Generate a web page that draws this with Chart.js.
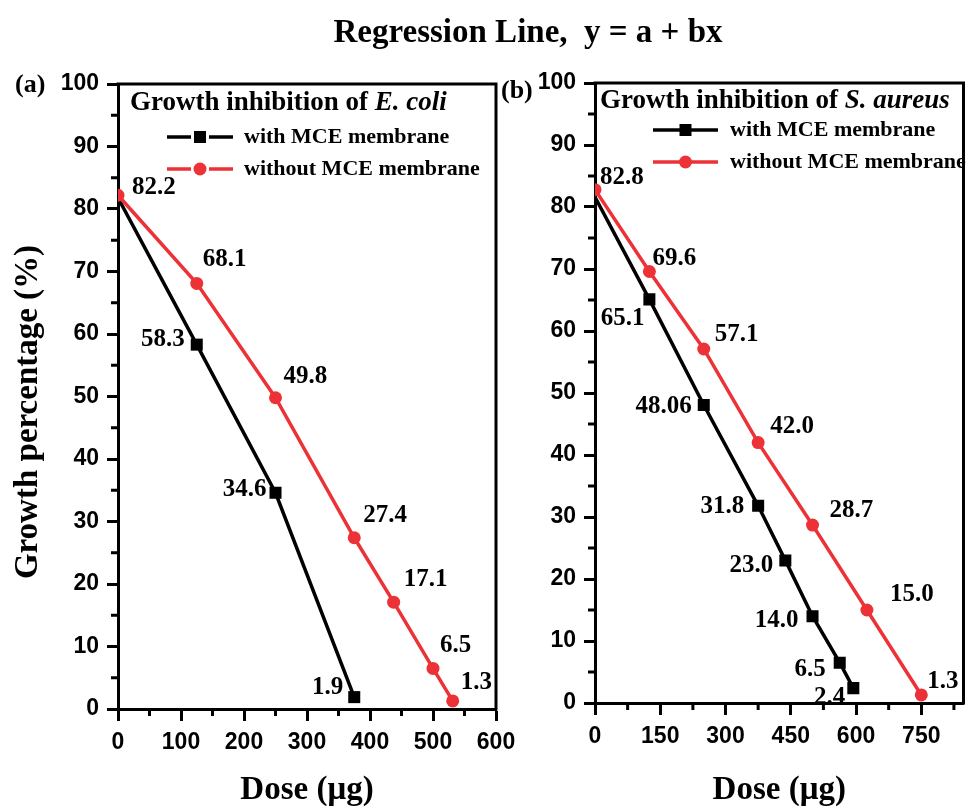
<!DOCTYPE html>
<html>
<head>
<meta charset="utf-8">
<script src="https://cdn.jsdelivr.net/npm/chart.js@4.4.1/dist/chart.umd.min.js"></script>
<style>
  html, body { margin: 0; padding: 0; background: #fff; }
  #wrap { position: relative; width: 972px; height: 808px; }
  canvas { position: absolute; left: 0; top: 0; }
</style>
</head>
<body>
<div id="wrap">
  <canvas id="panelA" width="972" height="808"></canvas>
  <canvas id="panelB" width="972" height="808"></canvas>
</div>
<script>
const SERIF = '"Liberation Serif", "Times New Roman", serif'
const SANS = '"Liberation Sans", Arial, sans-serif'
const RED = '#ec3237'

// (a) E. coli
const ecoliDoseWith = [0, 125, 250, 375]
const ecoliWith = [81.8, 58.3, 34.6, 1.9]
const ecoliDoseWithout = [0, 125, 250, 375, 437.5, 500, 531.25]
const ecoliWithout = [82.2, 68.1, 49.8, 27.4, 17.1, 6.5, 1.3]

// (b) S. aureus
const aureusDoseWith = [0, 125, 250, 375, 437.5, 500, 562.5, 593.75]
const aureusWith = [81.6, 65.1, 48.06, 31.8, 23.0, 14.0, 6.5, 2.4]
const aureusDoseWithout = [0, 125, 250, 375, 500, 625, 750]
const aureusWithout = [82.8, 69.6, 57.1, 42.0, 28.7, 15.0, 1.3]

// tick labels
const growthTicks = [0, 10, 20, 30, 40, 50, 60, 70, 80, 90, 100]
const doseTicksA = [0, 100, 200, 300, 400, 500, 600]
const doseTicksB = [0, 150, 300, 450, 600, 750]

const seriesNames = ['with MCE membrane', 'without MCE membrane']

// where each value label sits relative to its point (px)
const ecoliWithOffsets = [null, [-12, -5], [-9, -3], [-11, -10]]
const ecoliWithoutOffsets = [[14, -8], [6, -24], [8, -21], [9, -22], [10, -23], [7, -23], [8, -18]]
const aureusWithOffsets = [null, [-5, 19], [-12, 2], [-14, 1], [-12, 5], [-14, 4], [-14, 7], [-8, 9]]
const aureusWithoutOffsets = [[5, -12], [3, -13], [11, -14], [12, -16], [17, -15], [23, -15], [6, -13]]

const fmt = v => (Math.round(v * 10) / 10 === v ? v.toFixed(1) : String(v))

function drawMarker(ctx, kind, cx, cy) {
  ctx.beginPath()
  if (kind === 'rect') ctx.rect(cx - 6, cy - 6, 12, 12)
  else ctx.arc(cx, cy, 6.5, 0, Math.PI * 2)
  ctx.fill()
}

function panelPlugin(p) {
  return {
    id: 'panelDecor',
    afterDatasetsDraw(chart) {
      const { ctx, chartArea: a, scales: { x, y } } = chart
      ctx.save()

      // frame top + right
      ctx.strokeStyle = '#000'
      ctx.lineWidth = 3
      ctx.lineCap = 'square'
      ctx.beginPath()
      ctx.moveTo(a.left, a.top)
      ctx.lineTo(a.right, a.top)
      ctx.lineTo(a.right, a.bottom)
      ctx.stroke()

      // minor ticks
      ctx.lineCap = 'butt'
      ctx.beginPath()
      for (let i = 0; i < growthTicks.length - 1; i++) {
        const py = y.getPixelForValue((growthTicks[i] + growthTicks[i + 1]) / 2)
        ctx.moveTo(a.left - 7, py)
        ctx.lineTo(a.left, py)
      }
      const xt = p.xTicks.concat([p.xTicks[p.xTicks.length - 1] + p.xTicks[1]])
      for (let i = 0; i < xt.length - 1; i++) {
        const v = (xt[i] + xt[i + 1]) / 2
        if (v > p.xMax) continue
        const px = x.getPixelForValue(v)
        ctx.moveTo(px, a.bottom)
        ctx.lineTo(px, a.bottom + 7)
      }
      ctx.stroke()

      // value labels
      ctx.fillStyle = '#000'
      ctx.font = `bold 25px ${SERIF}`
      ctx.textBaseline = 'middle'
      chart.data.datasets.forEach((ds, i) => {
        ctx.textAlign = i === 0 ? 'right' : 'left'
        ds.data.forEach((pt, j) => {
          const o = p.offsets[i][j]
          if (!o) return
          ctx.fillText(fmt(pt.y), x.getPixelForValue(pt.x) + o[0], y.getPixelForValue(pt.y) + o[1])
        })
      })

      // legend box title
      ctx.textAlign = 'left'
      ctx.textBaseline = 'alphabetic'
      ctx.font = `bold 27px ${SERIF}`
      const head = 'Growth inhibition of '
      ctx.fillText(head, p.titleX, p.titleY)
      const w = ctx.measureText(head).width
      ctx.font = `italic bold 27px ${SERIF}`
      ctx.fillText(p.species, p.titleX + w, p.titleY)

      // legend rows
      ctx.font = `bold 22px ${SERIF}`
      ctx.textBaseline = 'middle'
      ctx.lineWidth = 3.5
      const kinds = ['rect', 'circle']
      const colors = ['#000', RED]
      p.legendRows.forEach((ry, i) => {
        ctx.strokeStyle = colors[i]
        ctx.fillStyle = colors[i]
        const mid = (p.legendX0 + p.legendX1) / 2
        ctx.beginPath()
        if (p.legendGap) {
          ctx.moveTo(p.legendX0, ry); ctx.lineTo(mid - p.legendGap, ry)
          ctx.moveTo(mid + p.legendGap, ry); ctx.lineTo(p.legendX1, ry)
        } else {
          ctx.moveTo(p.legendX0, ry); ctx.lineTo(p.legendX1, ry)
        }
        ctx.stroke()
        drawMarker(ctx, kinds[i], mid, ry)
        ctx.fillStyle = '#000'
        ctx.fillText(seriesNames[i], p.legendTextX, ry)
      })

      // panel letter
      ctx.font = `bold 26px ${SERIF}`
      ctx.fillText(p.letter, p.letterX, p.letterY)

      // x title
      ctx.textAlign = 'center'
      ctx.font = `bold 33px ${SERIF}`
      ctx.fillText('Dose (μg)', (a.left + a.right) / 2, 790)

      if (p.main) {
        ctx.fillText('Regression Line,  y = a + bx', 528, 33)
        ctx.translate(28, 412)
        ctx.rotate(-Math.PI / 2)
        ctx.fillText('Growth percentage (%)', 0, 0)
      }
      ctx.restore()
    }
  }
}

function makePanel(id, p) {
  const axisFont = { family: SANS, size: 23, weight: 'bold' }
  return new Chart(document.getElementById(id), {
    type: 'line',
    data: {
      datasets: [
        {
          label: seriesNames[0],
          data: p.doseWith.map((d, i) => ({ x: d, y: p.valWith[i] })),
          borderColor: '#000',
          backgroundColor: '#000',
          borderWidth: 3.5,
          pointStyle: 'rect',
          pointRadius: c => (c.dataIndex === 0 ? 0 : 8.5),
          pointBorderWidth: 0,
          order: 1
        },
        {
          label: seriesNames[1],
          data: p.doseWithout.map((d, i) => ({ x: d, y: p.valWithout[i] })),
          borderColor: RED,
          backgroundColor: RED,
          borderWidth: 3.5,
          pointStyle: 'circle',
          pointRadius: 6.5,
          pointBorderWidth: 0,
          order: 0
        }
      ]
    },
    options: {
      responsive: false,
      animation: false,
      events: [],
      layout: { padding: { left: p.padLeft, right: p.padRight, top: p.padTop, bottom: 0 } },
      plugins: { legend: { display: false }, tooltip: { enabled: false } },
      scales: {
        x: {
          type: 'linear',
          min: 0,
          max: p.xMax,
          afterBuildTicks: s => { s.ticks = p.xTicks.map(v => ({ value: v })) },
          afterFit: s => { s.height = p.xHeight },
          grid: { drawOnChartArea: false, tickLength: 12, tickColor: '#000', tickWidth: 3 },
          border: { color: '#000', width: 3 },
          ticks: { color: '#000', font: axisFont, padding: 8, maxRotation: 0 }
        },
        y: {
          type: 'linear',
          min: 0,
          max: 100,
          afterBuildTicks: s => { s.ticks = growthTicks.map(v => ({ value: v })) },
          afterFit: s => { s.width = p.yWidth },
          grid: { drawOnChartArea: false, tickLength: 11, tickColor: '#000', tickWidth: 3 },
          border: { color: '#000', width: 3 },
          ticks: { color: '#000', font: axisFont, padding: 8 }
        }
      }
    },
    plugins: [panelPlugin(p)]
  })
}

makePanel('panelA', {
  doseWith: ecoliDoseWith, valWith: ecoliWith,
  doseWithout: ecoliDoseWithout, valWithout: ecoliWithout,
  offsets: [ecoliWithOffsets, ecoliWithoutOffsets],
  xMax: 600, xTicks: doseTicksA,
  padLeft: 0, padRight: 476, padTop: 84, yWidth: 118, xHeight: 99,
  species: 'E. coli', titleX: 130, titleY: 110,
  legendRows: [137, 169], legendX0: 167, legendX1: 233, legendGap: 9, legendTextX: 244,
  letter: '(a)', letterX: 15, letterY: 85,
  main: true
})

makePanel('panelB', {
  doseWith: aureusDoseWith, valWith: aureusWith,
  doseWithout: aureusDoseWithout, valWithout: aureusWithout,
  offsets: [aureusWithOffsets, aureusWithoutOffsets],
  xMax: 847, xTicks: doseTicksB,
  padLeft: 495, padRight: 2, padTop: 83, yWidth: 100, xHeight: 105,
  species: 'S. aureus', titleX: 600, titleY: 108,
  legendRows: [130, 162], legendX0: 653, legendX1: 718, legendGap: 0, legendTextX: 730,
  letter: '(b)', letterX: 501, letterY: 91,
  main: false
})
</script>
</body>
</html>
